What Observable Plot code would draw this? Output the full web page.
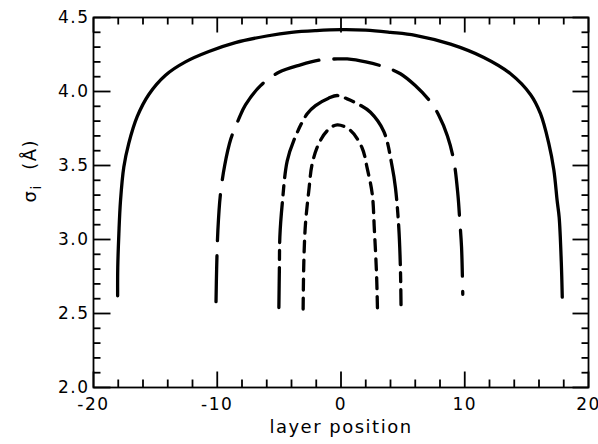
<!DOCTYPE html>
<html>
<head>
<meta charset="utf-8">
<script src="https://cdn.jsdelivr.net/npm/d3@7"></script>
<script src="https://cdn.jsdelivr.net/npm/@observablehq/plot@0.6"></script>
<style>
  html, body { margin: 0; padding: 0; background: #fff; }
  svg text { letter-spacing: 1.5px; }
</style>
</head>
<body>
<div id="chart"></div>
<script>
// ---- data ----
const solidX = [-18.05, -18.04, -17.95, -17.82, -17.55, -17.15, -16.47, -15.53, -14.18, -12.57, -10.68, -8.53, -6, -4, -2, 0, 2, 4, 6, 8.85, 11.54, 13.7, 15.31, 16.12, 16.79, 17.2, 17.47, 17.63, 17.8, 17.88];
const solidY = [2.62, 2.81, 3.04, 3.26, 3.49, 3.65, 3.83, 3.98, 4.11, 4.20, 4.27, 4.33, 4.375, 4.40, 4.412, 4.418, 4.415, 4.40, 4.38, 4.32, 4.23, 4.12, 3.98, 3.85, 3.65, 3.47, 3.26, 3.15, 2.85, 2.61];

const longX = [-10.1, -10.05, -9.95, -9.75, -9.4, -8.9, -8.26, -7.72, -6.5, -5.02, -3.27, -1.5, 0, 0.5, 2, 3.73, 4.8, 6, 7.23, 7.9, 8.6, 9.12, 9.45, 9.6, 9.74, 9.84];
const longY = [2.58, 2.8, 3.06, 3.3, 3.5, 3.68, 3.815, 3.91, 4.04, 4.13, 4.18, 4.215, 4.22, 4.22, 4.2, 4.16, 4.12, 4.04, 3.93, 3.84, 3.7, 3.53, 3.3, 3.125, 2.95, 2.63];

const medX = [-5.02, -4.98, -4.94, -4.75, -4.35, -3.81, -2.73, -2.06, -1, -0.3, 0.5, 1.5, 2.38, 3.46, 4.14, 4.4, 4.67, 4.8, 4.85];
const medY = [2.54, 2.8, 3.02, 3.24, 3.53, 3.67, 3.85, 3.905, 3.955, 3.973, 3.95, 3.91, 3.86, 3.73, 3.49, 3.35, 3.08, 2.81, 2.56];

const shortX = [-3.06, -3.0, -2.87, -2.6, -2.33, -1.8, -1.1, -0.3, 0.77, 1.7, 2.12, 2.52, 2.7, 2.87, 2.95];
const shortY = [2.53, 2.86, 3.106, 3.33, 3.51, 3.647, 3.736, 3.775, 3.736, 3.62, 3.48, 3.31, 3.06, 2.77, 2.52];

const xMajor = [-20, -10, 0, 10, 20];
const xMinor = [-18, -16, -14, -12, -8, -6, -4, -2, 2, 4, 6, 8, 12, 14, 16, 18];
const xTickLabels = ["-20", "-10", "0", "10", "20"];
const yMajor = [2.0, 2.5, 3.0, 3.5, 4.0, 4.5];
const yMinor = [2.1, 2.2, 2.3, 2.4, 2.6, 2.7, 2.8, 2.9, 3.1, 3.2, 3.3, 3.4, 3.6, 3.7, 3.8, 3.9, 4.1, 4.2, 4.3, 4.4];
const yTickLabels = ["2.0", "2.5", "3.0", "3.5", "4.0", "4.5"];

const xTitle = "layer position";
const yTitle = "σi (Å)";

// ---- build series ----
function toRows(xs, ys) { return xs.map((x, i) => ({x, y: ys[i]})); }
const series = [
  {rows: toRows(solidX, solidY), dash: null},
  {rows: toRows(longX, longY), dash: "46,15"},
  {rows: toRows(medX, medY), dash: "40,8,9,8"},
  {rows: toRows(shortX, shortY), dash: "11,8"}
];

// inward tick marks as path vectors (pixel length) anchored on the frame edges
const tickShape = {draw(context, l) { context.moveTo(0, 0); context.lineTo(0, -l); }};
const tickOpts = {shape: tickShape, anchor: "start", stroke: "#000", strokeWidth: 1.8, strokeLinecap: "butt"};
const ticksX = (vals, edge, len) => Plot.vector(vals, {
  ...tickOpts, x: d => d, frameAnchor: edge, length: len, rotate: edge === "bottom" ? 0 : 180
});
const ticksY = (vals, edge, len) => Plot.vector(vals, {
  ...tickOpts, y: d => d, frameAnchor: edge, length: len, rotate: edge === "left" ? 90 : 270
});

const chart = Plot.plot({
  width: 598, height: 444,
  marginLeft: 93, marginRight: 10, marginTop: 17, marginBottom: 57,
  style: {fontFamily: "'DejaVu Sans', sans-serif", fontSize: "16px", color: "#000", background: "#fff"},
  x: {domain: [-20, 20], axis: null},
  y: {domain: [2.0, 4.5], axis: null},
  marks: [
    ...series.map(sr => Plot.line(sr.rows, {
      x: "x", y: "y", curve: "catmull-rom",
      stroke: "#000", strokeWidth: 3.3, strokeDasharray: sr.dash
    })),
    // tick labels
    Plot.text(xMajor, {x: d => d, frameAnchor: "bottom", lineAnchor: "top", dy: 10,
      text: (d, i) => xTickLabels[i], fontSize: 17}),
    Plot.text(yMajor, {y: d => d, frameAnchor: "left", textAnchor: "end", dx: -4,
      text: (d, i) => yTickLabels[i], fontSize: 17}),
    // titles
    Plot.text([xTitle], {frameAnchor: "bottom", text: d => d, dy: 45, fontSize: 18}),
    Plot.text([yTitle], {frameAnchor: "left", text: d => d, dx: -63, rotate: -90, fontSize: 18}),
    Plot.frame({stroke: "#000", strokeWidth: 1.8}),
    // inward ticks on all four sides
    ticksX(xMajor, "bottom", 16),
    ticksX(xMinor, "bottom", 8),
    ticksX(xMajor, "top", 15),
    ticksX(xMinor, "top", 7),
    ticksY(yMajor, "left", 17),
    ticksY(yMinor, "left", 7),
    ticksY(yMajor, "right", 16),
    ticksY(yMinor, "right", 7)
  ]
});
document.getElementById("chart").appendChild(chart);

// subscript "i" in the y title
d3.select(chart).selectAll("text").each(function () {
  const t = d3.select(this);
  if (t.text() === yTitle) {
    t.text(null);
    t.append("tspan").text("σ");
    t.append("tspan").attr("dy", "0.35em").attr("font-size", "14px").text("i");
    t.append("tspan").attr("dy", "-0.3em").text("\u00a0\u00a0(Å)");
  }
});
</script>
</body>
</html>
